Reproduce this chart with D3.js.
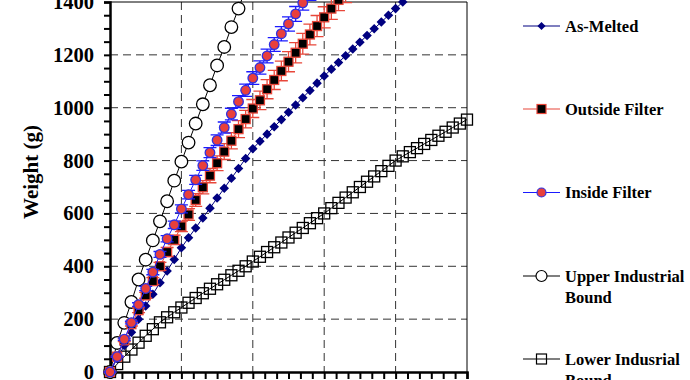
<!DOCTYPE html>
<html>
<head>
<meta charset="utf-8">
<script src="https://cdn.jsdelivr.net/npm/d3@7"></script>
<style>
  body { margin: 0; background: #fff; }
  svg { display: block; font-family: "Liberation Serif", "Times New Roman", serif; font-weight: bold; }
</style>
</head>
<body>
<svg id="chart" width="690" height="380"></svg>
<script>
// sampling time (s), one reading every 6 s
const time = d3.range(0, 301, 6);

// Weights (g)
const asMelted = [0, 50, 100, 150, 200, 250, 294, 338, 382, 426, 470, 508, 545, 583, 620, 658, 695, 733, 770, 808,
  845, 873, 900, 928, 955, 983, 1010, 1038, 1065, 1093, 1120, 1146, 1171, 1197, 1222, 1248, 1273, 1299, 1324, 1350, 1375, 1400, 1425];
const outside = [0, 58, 120, 181, 234, 290, 344, 400, 454, 500, 551, 596, 651, 699, 743, 790, 834, 875, 919, 957,
  997, 1028, 1070, 1105, 1139, 1174, 1208, 1242, 1277, 1309, 1342, 1375, 1408, 1440, 1470];
const outsideErr = [0, 3, 5, 7, 9, 11, 13, 15, 17, 18, 20, 22, 24, 25, 27, 28, 30, 31, 32, 33,
  34, 35, 36, 36, 37, 38, 38, 39, 39, 40, 40, 41, 41, 42, 42];
const inside = [0, 58, 124, 187, 255, 316, 378, 445, 504, 557, 617, 671, 727, 781, 830, 877, 925, 976, 1023, 1066,
  1112, 1152, 1196, 1239, 1280, 1317, 1355, 1397, 1435, 1470];
const insideErr = [0, 2, 4, 5, 7, 8, 10, 11, 12, 14, 15, 16, 17, 18, 19, 20, 21, 22, 23, 23,
  24, 25, 26, 26, 27, 27, 28, 28, 29, 29];
const upperBound = [0, 110, 186, 265, 350, 425, 498, 570, 646, 724, 796, 868, 940, 1013, 1085, 1160, 1230, 1305, 1375, 1450];
const lowerBound = [0, 30, 58, 85, 111, 137, 162, 188, 207, 226, 244, 262, 280, 298, 315, 332, 349, 366, 383, 400,
  418, 436, 454, 472, 490, 509, 527, 545, 563, 582, 600, 620, 640, 660, 680, 700, 720, 740, 760, 780,
  800, 816, 832, 847, 863, 878, 894, 909, 925, 940, 955];

const yTicks = [0, 200, 400, 600, 800, 1000, 1200, 1400];
const xMajor = [0, 60, 120, 180, 240, 300];
const legendLabels = ["As-Melted", "Outside Filter", "Inside Filter", ["Upper Industrial", "Bound"], ["Lower Indusrial", "Bound"]];

const svg = d3.select("#chart");
const plot = { left: 110, right: 467, top: 2, bottom: 372 };

const x = d3.scaleLinear().domain([0, 300]).range([plot.left, plot.right]);
const y = d3.scaleLinear().domain([0, 1400]).range([plot.bottom, plot.top]);

const red = "#e8473a", blue = "#1a1aff", navy = "#000080";

// dashed grid
svg.append("g").selectAll("line")
  .data(yTicks.slice(1, -1))
  .join("line")
  .attr("x1", plot.left).attr("x2", plot.right)
  .attr("y1", d => y(d)).attr("y2", d => y(d))
  .attr("stroke", "#333").attr("stroke-width", 1).attr("stroke-dasharray", "8,5");
svg.append("g").selectAll("line")
  .data(xMajor.slice(1, -1))
  .join("line")
  .attr("x1", d => x(d)).attr("x2", d => x(d))
  .attr("y1", plot.top).attr("y2", plot.bottom)
  .attr("stroke", "#333").attr("stroke-width", 1).attr("stroke-dasharray", "8,5");

// frame top and right
svg.append("path")
  .attr("d", `M${plot.left},${plot.top}H${plot.right}V${plot.bottom}`)
  .attr("fill", "none").attr("stroke", "#000").attr("stroke-width", 1);

// axes
const yAxis = d3.axisLeft(y).tickValues(d3.range(0, 1401, 50)).tickSize(6).tickPadding(10)
  .tickFormat(d => yTicks.includes(d) ? d : "");
const gy = svg.append("g").attr("transform", `translate(${plot.left},0)`).call(yAxis);
gy.select(".domain").attr("stroke-width", 2.5);
gy.selectAll(".tick line").attr("stroke-width", 2);
gy.selectAll("text").attr("font-size", "20.5px").attr("font-family", "Liberation Serif").attr("font-weight", "bold").attr("fill", "#000");

const xAxis = d3.axisBottom(x).tickValues(d3.range(0, 301, 10)).tickSize(7).tickFormat("");
const gx = svg.append("g").attr("transform", `translate(0,${plot.bottom})`).call(xAxis);
gx.select(".domain").attr("stroke-width", 2.5);
gx.selectAll(".tick line").attr("stroke-width", 2);

svg.append("text")
  .attr("transform", "translate(38,172) rotate(-90)")
  .attr("text-anchor", "middle")
  .attr("font-size", "21px")
  .text("Weight (g)");

const line = d3.line().x((d, i) => x(time[i])).y(d => y(d));

// lower industrial bound
svg.append("path").attr("d", line(lowerBound)).attr("fill", "none").attr("stroke", "#000").attr("stroke-width", 1);
svg.append("g").selectAll("rect").data(lowerBound).join("rect")
  .attr("x", (d, i) => x(time[i]) - 5.5).attr("y", d => y(d) - 5.5)
  .attr("width", 11).attr("height", 11)
  .attr("fill", "none").attr("stroke", "#000").attr("stroke-width", 1.3);

// upper industrial bound
svg.append("path").attr("d", line(upperBound)).attr("fill", "none").attr("stroke", "#000").attr("stroke-width", 1);
svg.append("g").selectAll("circle").data(upperBound).join("circle")
  .attr("cx", (d, i) => x(time[i])).attr("cy", d => y(d)).attr("r", 6.3)
  .attr("fill", "#fff").attr("stroke", "#000").attr("stroke-width", 1.3);

// as-melted
svg.append("path").attr("d", line(asMelted)).attr("fill", "none").attr("stroke", navy).attr("stroke-width", 1);
svg.append("g").selectAll("path").data(asMelted).join("path")
  .attr("d", d3.symbol(d3.symbolDiamond2, 58))
  .attr("transform", (d, i) => `translate(${x(time[i])},${y(d)})`)
  .attr("fill", navy);

// error bars helper
function errorBars(vals, errs, color) {
  const g = svg.append("g").attr("stroke", color).attr("stroke-width", 1.3).attr("fill", "none");
  vals.forEach((v, i) => {
    const cx = x(time[i]), t = y(v + errs[i]), b = y(v - errs[i]);
    g.append("path").attr("d", `M${cx},${t}V${b}M${cx - 6.5},${t}H${cx + 6.5}M${cx - 6.5},${b}H${cx + 6.5}`);
  });
}

// outside filter
errorBars(outside, outsideErr, red);
svg.append("path").attr("d", line(outside)).attr("fill", "none").attr("stroke", red).attr("stroke-width", 1);
svg.append("g").selectAll("rect").data(outside).join("rect")
  .attr("x", (d, i) => x(time[i]) - 4.5).attr("y", d => y(d) - 4.5)
  .attr("width", 9).attr("height", 9)
  .attr("fill", "#000").attr("stroke", red).attr("stroke-width", 1.3);

// inside filter
errorBars(inside, insideErr, blue);
svg.append("path").attr("d", line(inside)).attr("fill", "none").attr("stroke", blue).attr("stroke-width", 1);
svg.append("g").selectAll("circle").data(inside).join("circle")
  .attr("cx", (d, i) => x(time[i])).attr("cy", d => y(d)).attr("r", 4.8)
  .attr("fill", "#e8403c").attr("stroke", "#3030e0").attr("stroke-width", 1.3);

// legend
const legY = [26, 109, 192.5, 276, 359];
const legStroke = [navy, red, blue, "#000", "#000"];
const leg = svg.append("g");
legendLabels.forEach((lab, i) => {
  const g = leg.append("g").attr("transform", `translate(0,${legY[i]})`);
  g.append("line").attr("x1", 523).attr("x2", 560).attr("stroke", legStroke[i]).attr("stroke-width", 1.2);
  if (i === 0) g.append("path").attr("d", d3.symbol(d3.symbolDiamond2, 42)).attr("transform", "translate(541.5,0)").attr("fill", navy);
  if (i === 1) g.append("rect").attr("x", 537).attr("y", -4.5).attr("width", 9).attr("height", 9).attr("fill", "#000").attr("stroke", red).attr("stroke-width", 1.2);
  if (i === 2) g.append("circle").attr("cx", 541.5).attr("r", 4.5).attr("fill", "#e8403c").attr("stroke", "#3030e0").attr("stroke-width", 1.2);
  if (i === 3) g.append("circle").attr("cx", 541.5).attr("r", 5.5).attr("fill", "#fff").attr("stroke", "#000").attr("stroke-width", 1.2);
  if (i === 4) g.append("rect").attr("x", 536.5).attr("y", -5).attr("width", 10).attr("height", 10).attr("fill", "none").attr("stroke", "#000").attr("stroke-width", 1.2);
  const lines = Array.isArray(lab) ? lab : [lab];
  const t = g.append("text").attr("x", 565).attr("y", 5.5).attr("font-size", "16.5px");
  lines.forEach((s, k) => t.append("tspan").attr("x", 565).attr("dy", k === 0 ? 0 : 21).text(s));
});
</script>
</body>
</html>
